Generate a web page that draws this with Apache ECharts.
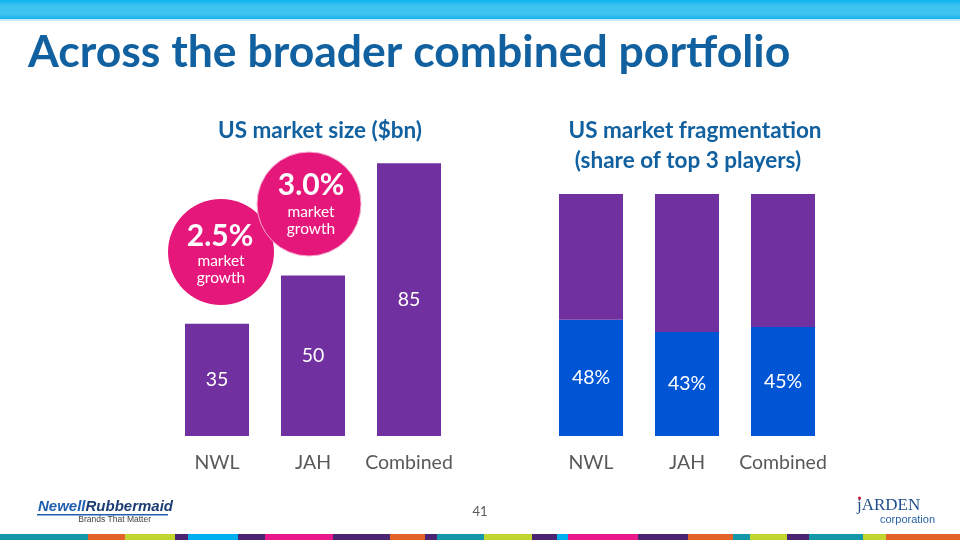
<!DOCTYPE html>
<html>
<head>
<meta charset="utf-8">
<script src="https://cdn.jsdelivr.net/npm/echarts@6/dist/echarts.min.js"></script>
<style>
html,body{margin:0;padding:0;background:#fff;}
#c{width:960px;height:540px;}
</style>
</head>
<body>
<div id="c"></div>
<script>
const categories = ['NWL', 'JAH', 'Combined'];
const marketSize = [35, 50, 85];
const top3Share = [48, 43, 45];
const otherShare = [52, 57, 55];
const growthNWL = '2.5%';
const growthCombined = '3.0%';

const BLUE_TEXT = '#11609f';
const PURPLE = '#7030a0';
const BLUE_BAR = '#0055d4';
const PINK = '#e6177b';
const FONT = 'Lato';

const stripe = [
  [0, 88, '#1497a8'], [88, 125, '#e2622a'], [125, 175, '#c1d52f'], [175, 188, '#4b2571'],
  [188, 238, '#00aeef'], [238, 265, '#4b2571'], [265, 333, '#e8178a'], [333, 390, '#4b2571'],
  [390, 425, '#e2622a'], [425, 437, '#4b2571'], [437, 484, '#1497a8'], [484, 532, '#c1d52f'],
  [532, 557, '#4b2571'], [557, 568, '#00aeef'], [568, 638, '#e8178a'], [638, 688, '#4b2571'],
  [688, 733, '#e2622a'], [733, 750, '#1497a8'], [750, 787, '#c1d52f'], [787, 809, '#4b2571'],
  [809, 863, '#1497a8'], [863, 886, '#c1d52f'], [886, 960, '#e2622a']
];

const chart = echarts.init(document.getElementById('c'), null, {renderer: 'canvas'});

const graphics = [
  {type: 'rect', shape: {x: 0, y: 0, width: 960, height: 19}, z: 1,
    style: {fill: new echarts.graphic.LinearGradient(0, 0, 0, 1, [
      {offset: 0, color: '#0cb2ef'}, {offset: 0.3, color: '#3dc3f1'},
      {offset: 0.75, color: '#3fc3f0'}, {offset: 1, color: '#12b1ec'}])}},
  {type: 'rect', shape: {x: 0, y: 19, width: 960, height: 2}, z: 1, style: {fill: '#c8ecfa'}},
  {type: 'text', x: 28, y: 53, z: 5, style: {text: 'Across the broader combined portfolio',
    font: 'bold 44.5px ' + FONT, fill: BLUE_TEXT, textVerticalAlign: 'middle'}},
  {type: 'text', x: 320, y: 131, z: 5, style: {text: 'US market size ($bn)',
    font: 'bold 22.5px ' + FONT, fill: BLUE_TEXT, textAlign: 'center', textVerticalAlign: 'middle'}},
  {type: 'text', x: 695, y: 131, z: 5, style: {text: 'US market fragmentation',
    font: 'bold 22.5px ' + FONT, fill: BLUE_TEXT, textAlign: 'center', textVerticalAlign: 'middle'}},
  {type: 'text', x: 688, y: 161, z: 5, style: {text: '(share of top 3 players)',
    font: 'bold 22.5px ' + FONT, fill: BLUE_TEXT, textAlign: 'center', textVerticalAlign: 'middle'}},
  // bubbles
  {type: 'circle', shape: {cx: 221, cy: 252, r: 53}, z: 10, style: {fill: PINK}},
  {type: 'text', x: 220, y: 236, z: 12, style: {text: growthNWL, font: 'bold 30px ' + FONT,
    fill: '#fff', textAlign: 'center', textVerticalAlign: 'middle'}},
  {type: 'text', x: 221, y: 261, z: 12, style: {text: 'market', font: '15.5px ' + FONT,
    fill: '#fff', textAlign: 'center', textVerticalAlign: 'middle'}},
  {type: 'text', x: 221, y: 278, z: 12, style: {text: 'growth', font: '15.5px ' + FONT,
    fill: '#fff', textAlign: 'center', textVerticalAlign: 'middle'}},
  {type: 'circle', shape: {cx: 309, cy: 204, r: 52}, z: 13, style: {fill: PINK, stroke: '#f7a8cc', lineWidth: 1}},
  {type: 'text', x: 311, y: 185, z: 14, style: {text: growthCombined, font: 'bold 30px ' + FONT,
    fill: '#fff', textAlign: 'center', textVerticalAlign: 'middle'}},
  {type: 'text', x: 311, y: 212, z: 14, style: {text: 'market', font: '15.5px ' + FONT,
    fill: '#fff', textAlign: 'center', textVerticalAlign: 'middle'}},
  {type: 'text', x: 311, y: 229, z: 14, style: {text: 'growth', font: '15.5px ' + FONT,
    fill: '#fff', textAlign: 'center', textVerticalAlign: 'middle'}},
  // page number
  {type: 'text', x: 480, y: 512, z: 5, style: {text: '41', font: '13px ' + FONT,
    fill: '#595959', textAlign: 'center', textVerticalAlign: 'middle'}},
  // Newell Rubbermaid logo
  {type: 'text', x: 38, y: 507, z: 5, style: {
    text: '{a|Newell}{b|Rubbermaid}', textVerticalAlign: 'middle',
    rich: {a: {font: 'italic bold 15px "Liberation Sans"', fill: '#1f5fae'},
           b: {font: 'italic bold 15px "Liberation Sans"', fill: '#1c3d73'}}}},
  {type: 'rect', shape: {x: 37, y: 514, width: 131, height: 1.5}, z: 5, style: {fill: '#1f5fae'}},
  {type: 'text', x: 151, y: 520, z: 5, style: {text: 'Brands That Matter', font: '8.5px "Liberation Sans Narrow", "Liberation Sans"',
    fill: '#444', textAlign: 'right', textVerticalAlign: 'middle'}},
  // Jarden logo
  {type: 'text', x: 857, y: 506, z: 5, style: {text: 'jARDEN', font: '17px "Liberation Serif"',
    fill: '#1f4e8c', textVerticalAlign: 'middle'}},
  {type: 'circle', shape: {cx: 859.5, cy: 498, r: 1.5}, z: 6, style: {fill: '#c8102e'}},
  {type: 'text', x: 880, y: 520, z: 5, style: {text: 'corporation', font: '11px "Liberation Sans Narrow", "Liberation Sans"',
    fill: '#2a64a8', textVerticalAlign: 'middle'}}
];
stripe.forEach(s => graphics.push({type: 'rect', shape: {x: s[0], y: 534, width: s[1] - s[0], height: 6}, z: 1, style: {fill: s[2]}}));

const xAxisCommon = {
  type: 'category', data: categories,
  axisLine: {show: false}, axisTick: {show: false},
  axisLabel: {interval: 0, color: '#595959', fontFamily: FONT, fontSize: 19.5, margin: 17}
};
const yAxisCommon = {type: 'value', min: 0, max: 100, show: false, splitLine: {show: false}};

chart.setOption({
  animation: false,
  backgroundColor: '#ffffff',
  grid: [
    {left: 169, top: 115, width: 288, height: 321},
    {left: 543, top: 194, width: 288, height: 242}
  ],
  xAxis: [Object.assign({gridIndex: 0}, xAxisCommon), Object.assign({gridIndex: 1}, xAxisCommon)],
  yAxis: [Object.assign({gridIndex: 0}, yAxisCommon), Object.assign({gridIndex: 1}, yAxisCommon)],
  series: [
    {type: 'bar', name: 'US market size', xAxisIndex: 0, yAxisIndex: 0, data: marketSize,
      barCategoryGap: '33.3%', itemStyle: {color: PURPLE},
      label: {show: true, position: 'inside', color: '#fff', fontFamily: FONT, fontSize: 19.5, formatter: '{c}'}},
    {type: 'bar', name: 'Top 3 share', xAxisIndex: 1, yAxisIndex: 1, data: top3Share, stack: 'frag',
      barCategoryGap: '33.3%', itemStyle: {color: BLUE_BAR},
      label: {show: true, position: 'inside', color: '#fff', fontFamily: FONT, fontSize: 19.5, formatter: '{c}%'}},
    {type: 'bar', name: 'Other', xAxisIndex: 1, yAxisIndex: 1, data: otherShare, stack: 'frag',
      barCategoryGap: '33.3%', itemStyle: {color: PURPLE}, label: {show: false}}
  ],
  graphic: graphics
});
</script>
</body>
</html>
